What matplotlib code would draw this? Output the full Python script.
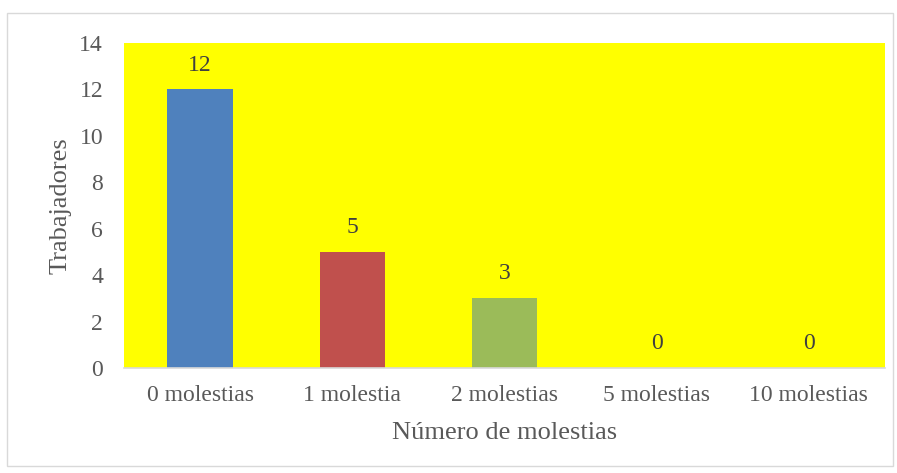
import matplotlib.pyplot as plt
from matplotlib.patches import Rectangle

categorias = ['0 molestias', '1 molestia', '2 molestias', '5 molestias', '10 molestias']
trabajadores = [12, 5, 3, 0, 0]
colores = ['#4F81BD', '#C0504D', '#9BBB59', '#8064A2', '#4BACC6']

plt.rcParams['font.family'] = ['Liberation Serif', 'DejaVu Serif']

fig = plt.figure(figsize=(8.97, 4.73), dpi=100)
ax = fig.add_axes([124/897, 1 - 368/473, (885-124)/897, (368-43)/473])
ax.set_facecolor('#FFFF00')

x = range(len(categorias))
bars = ax.bar(x, trabajadores, width=0.43, color=colores)
for i, v in enumerate(trabajadores):
    ax.text(i, v + 0.6, str(v), ha='center', va='bottom', fontsize=17, color='#404040')

ax.set_xlim(-0.5, len(categorias) - 0.5)
ax.set_ylim(0, 14)
ax.set_yticks(range(0, 15, 2))
ax.set_xticks(list(x))
ax.set_xticklabels(categorias)
ax.tick_params(axis='both', length=0, labelsize=17, colors='#595959')
ax.tick_params(axis='y', pad=15)
ax.tick_params(axis='x', pad=12)

for s in ['top', 'right', 'left']:
    ax.spines[s].set_visible(False)
ax.spines['bottom'].set_color('#D9D9D9')
ax.spines['bottom'].set_linewidth(1.2)

ax.set_xlabel('Número de molestias', fontsize=19, color='#595959', labelpad=12)
ax.set_ylabel('Trabajadores', fontsize=19, color='#595959', labelpad=6)

fig.patches.append(Rectangle((7/897, 1 - 466/473), 886/897, 453/473,
                             transform=fig.transFigure, fill=False,
                             edgecolor='#D9D9D9', linewidth=1))

fig.savefig('out.png', dpi=100)
